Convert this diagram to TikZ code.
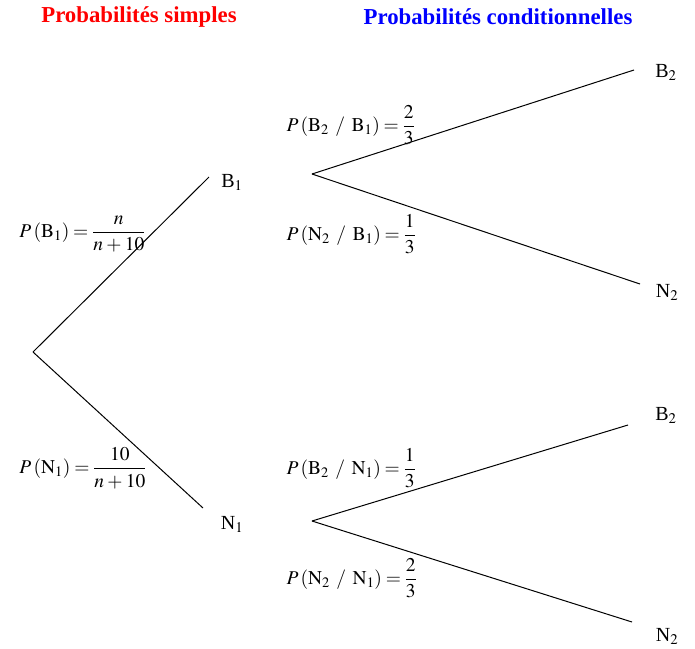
\documentclass[tikz,border=0pt]{standalone}
\usepackage{amsmath}
\usepackage{mathptmx}
\usepackage{fontspec}
\setmainfont{Liberation Serif}
\newcommand{\serre}{\thickmuskip=3.5mu\relax\medmuskip=3mu\relax}
\newcommand{\sachant}{\mskip6mu/\mskip6mu}

\begin{document}
\begin{tikzpicture}[x=1pt, y=-1pt, line width=1pt,
    issue/.style={font=\fontsize{20}{24}\selectfont, inner sep=0pt},
    proba/.style={font=\fontsize{19.5}{24}\selectfont\serre, inner sep=0pt, anchor=west},
    titre/.style={font=\fontsize{22.8}{26}\selectfont\bfseries, inner sep=0pt}]
    \useasboundingbox (0,0) rectangle (695,648);

    % Titles
    \node[titre, text=red] (simples) at (139,17) {Probabilités simples};
    \node[titre, text=blue] (cond) at (498,17) {Probabilités conditionnelles};

    % First level
    \coordinate (r) at (33,352);
    \coordinate (b1) at (209,177);
    \coordinate (n1) at (203,508);
    \node[issue] (lb1) at (232,182) {B$_1$};
    \node[issue] (ln1) at (232,524) {N$_1$};
    \draw (r) -- (b1);
    \draw (r) -- (n1);

    % Second level after B1
    \coordinate (b1s) at (312,174);
    \coordinate (b2a) at (634,70);
    \coordinate (n2a) at (640,284);
    \node[issue] (lb2a) at (666,72) {B$_2$};
    \node[issue] (ln2a) at (667,292) {N$_2$};
    \draw (b1s) -- (b2a);
    \draw (b1s) -- (n2a);

    % Second level after N1
    \coordinate (n1s) at (312,521);
    \coordinate (b2b) at (628,425);
    \coordinate (n2b) at (632,622);
    \node[issue] (lb2b) at (666,415) {B$_2$};
    \node[issue] (ln2b) at (667,636) {N$_2$};
    \draw (n1s) -- (b2b);
    \draw (n1s) -- (n2b);

    % Probabilities
    \node[proba] (pb1) at (19,234) {$P\left(\mathrm{B}_1\right)=\dfrac{n}{n+10}$};
    \node[proba] (pn1) at (19,468) {$P\left(\mathrm{N}_1\right)=\dfrac{10}{n+10}$};
    \node[proba] (pb2b1) at (286,125) {$P\left(\mathrm{B}_2\sachant\mathrm{B}_1\right)=\dfrac{2}{3}$};
    \node[proba] (pn2b1) at (286,234) {$P\left(\mathrm{N}_2\sachant\mathrm{B}_1\right)=\dfrac{1}{3}$};
    \node[proba] (pb2n1) at (286,468) {$P\left(\mathrm{B}_2\sachant\mathrm{N}_1\right)=\dfrac{1}{3}$};
    \node[proba] (pn2n1) at (286,578) {$P\left(\mathrm{N}_2\sachant\mathrm{N}_1\right)=\dfrac{2}{3}$};
\end{tikzpicture}
\end{document}
